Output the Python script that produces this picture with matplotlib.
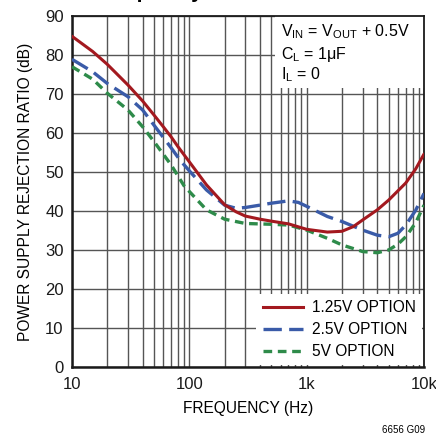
import matplotlib
matplotlib.use("Agg")
import matplotlib.pyplot as plt
from matplotlib.lines import Line2D
from matplotlib.patches import Rectangle

FONT = ['Liberation Sans', 'DejaVu Sans']
plt.rcParams['font.family'] = FONT
plt.rcParams['mathtext.fontset'] = 'custom'
plt.rcParams['mathtext.rm'] = 'Liberation Sans'

# ---- data ----
f_red = [10, 15, 20, 30, 40, 50, 60, 70, 80, 100, 140, 200, 250, 300, 400, 500, 700,
         1000, 1500, 2000, 2500, 3000, 4000, 5000, 7000, 8500, 10000]
psrr_red = [84.8, 80.9, 77.6, 72.3, 68.2, 64.6, 61.6, 59, 56.5, 52.6, 46.7, 41.6, 39.8, 38.7, 37.9, 37.4, 36.7,
            35.3, 34.6, 34.8, 36, 37.7, 40.3, 42.8, 47.2, 50.8, 54.6]

f_blue = [10, 15, 20, 30, 40, 50, 70, 83, 100, 140, 200, 250, 300, 400, 500, 700, 850,
          1000, 1500, 2000, 3000, 4000, 5000, 6000, 7000, 8500, 10000]
psrr_blue = [78.9, 75.7, 72.7, 69.3, 65.9, 62, 56.2, 53.1, 50.3, 45.4, 41.5, 40.7, 40.9, 41.5, 42, 42.6, 42.2,
             41.2, 38.6, 37.3, 35.1, 33.8, 33.4, 34.3, 36.4, 40.2, 44.5]

f_green = [10, 15, 20, 30, 40, 50, 70, 90, 100, 140, 200, 300, 500, 700,
           1000, 1500, 2000, 3000, 4000, 5000, 6000, 7000, 8500, 10000]
psrr_green = [77, 73.8, 70.2, 65.9, 61.6, 57.8, 51.8, 46.5, 45, 40.3, 37.9, 36.8, 36.6, 36.4,
              35.1, 33, 31.3, 29.6, 29.3, 30, 31.5, 33.4, 37, 41.5]

labels = ['1.25V OPTION', '2.5V OPTION', '5V OPTION']
x_ticks = [10, 100, 1000, 10000]
x_ticklabels = ['10', '100', '1k', '10k']
y_ticks = [0, 10, 20, 30, 40, 50, 60, 70, 80, 90]

RED = '#a3191f'
BLUE = '#3a5ba8'
GREEN = '#2e8b4a'
GRID = '#555555'
FS = 11

fig = plt.figure(figsize=(4.36, 4.34), dpi=100)
ax = fig.add_axes([72/436, 67/434, 352/436, 351/434])
ax.set_xscale('log')
ax.set_xlim(10, 10000)
ax.set_ylim(0, 90)

ax.set_xticks(x_ticks)
ax.set_xticklabels(x_ticklabels)
ax.set_yticks(y_ticks)
ax.xaxis.set_minor_locator(matplotlib.ticker.LogLocator(base=10, subs=range(2, 10)))
ax.xaxis.set_minor_formatter(matplotlib.ticker.NullFormatter())
ax.tick_params(which='both', length=0, labelsize=12, colors='#1a1a1a')
ax.tick_params(axis='x', pad=7)
ax.tick_params(axis='y', pad=6)

ax.grid(which='major', color=GRID, lw=1.0)
ax.grid(which='minor', axis='x', color=GRID, lw=1.0)
ax.set_axisbelow(True)
for s in ax.spines.values():
    s.set_color('#1a1a1a')
    s.set_linewidth(1.3)
ax.spines['left'].set_linewidth(1.8)
ax.spines['bottom'].set_linewidth(1.8)

ax.plot(f_red, psrr_red, color=RED, lw=2.2, solid_capstyle='round', zorder=5)
ax.plot(f_blue, psrr_blue, color=BLUE, lw=2.4, dashes=(5.5, 2.2), zorder=4)
ax.plot(f_green, psrr_green, color=GREEN, lw=2.4, dashes=(2.6, 1.7), zorder=3)

# conditions box
ax.add_patch(Rectangle((538, 71.5), 10000 - 538, 90 - 71.5, facecolor='white',
                       edgecolor='none', zorder=2))
ax.text(600, 85.9, r'V$_{\mathregular{IN}}$ = V$_{\mathregular{OUT}}$ + 0.5V',
        fontsize=FS + 0.5, va='center', ha='left', zorder=6)
ax.text(600, 80.0, r'C$_{\mathregular{L}}$ = 1μF', fontsize=FS + 0.5, va='center', ha='left', zorder=6)
ax.text(600, 74.9, r'I$_{\mathregular{L}}$ = 0', fontsize=FS + 0.5, va='center', ha='left', zorder=6)

handles = [Line2D([], [], color=RED, lw=2.2),
           Line2D([], [], color=BLUE, lw=2.4, dashes=(5.5, 2.2)),
           Line2D([], [], color=GREEN, lw=2.4, dashes=(2.6, 1.7))]
leg = ax.legend(handles, labels, loc='lower right', fontsize=FS + 0.2, frameon=True,
                fancybox=False, edgecolor='none', facecolor='white', framealpha=1,
                borderaxespad=0.1, handlelength=2.6, handletextpad=0.6,
                labelspacing=0.45, borderpad=0.4)
leg.set_zorder(7)

ax.set_xlabel('FREQUENCY (Hz)', fontsize=FS + 0.2, labelpad=7)
ax.set_ylabel('POWER SUPPLY REJECTION RATIO (dB)', fontsize=FS + 0.2, labelpad=9)

fig.text(425/436, 1 - 430/434, '6656 G09', fontsize=7, ha='right', va='center')
fig.text(98/436, 1 + 2.5/434, 'Frequency', fontsize=15, fontweight='bold',
         family=['Liberation Sans', 'DejaVu Sans'], ha='left', va='baseline')

fig.savefig('out.png', dpi=100)
